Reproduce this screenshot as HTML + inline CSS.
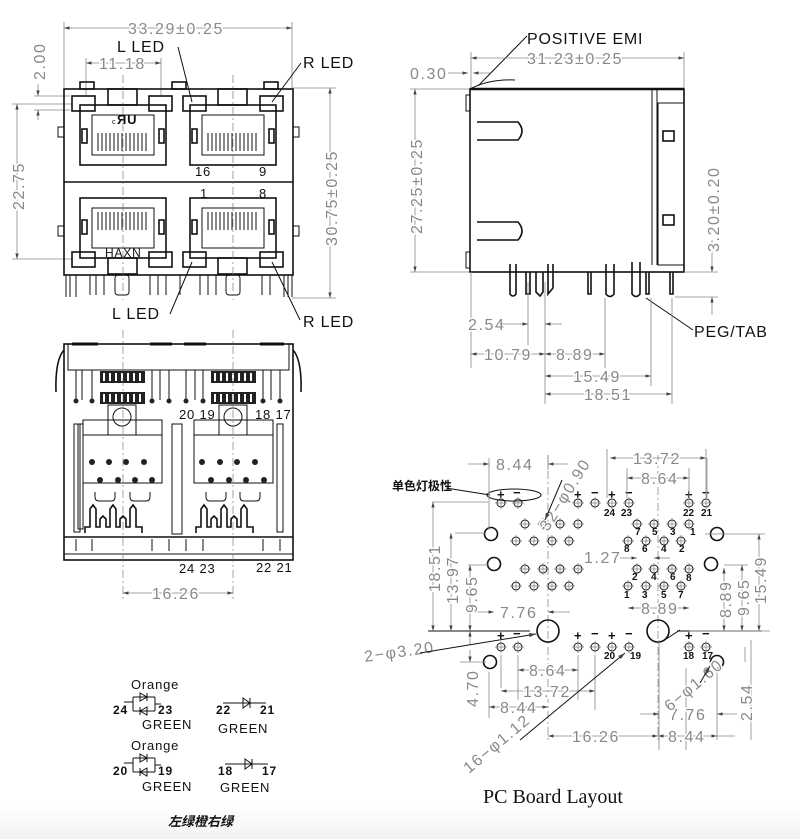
<!DOCTYPE html>
<html><head><meta charset="utf-8"><style>
html,body{margin:0;padding:0;background:#fff}
svg{display:block;font-size:16px}
.d{fill:#888;font-family:"Liberation Sans",sans-serif;font-size:16px;letter-spacing:1.6px;paint-order:stroke;stroke:#fff;stroke-width:3px}
.l{fill:#111;font-family:"Liberation Sans",sans-serif;letter-spacing:0.8px}
.s{fill:#111;font-family:"Liberation Sans",sans-serif;font-size:10px;font-weight:bold}
.k{stroke:#111;fill:none;stroke-width:1.6}
.t{stroke:#111;fill:none;stroke-width:1}
.g{stroke:#888;fill:none;stroke-width:0.8}
.c{stroke:#666;fill:none;stroke-width:0.6;stroke-dasharray:8 3 2 3}
</style></head><body>
<svg width="800" height="839" viewBox="0 0 800 839" xmlns="http://www.w3.org/2000/svg">
<defs>
<linearGradient id="bg" x1="0" y1="0" x2="0" y2="1"><stop offset="0" stop-color="#fff"/><stop offset="1" stop-color="#f2f2f2"/></linearGradient>
<marker id="a" viewBox="0 0 10 10" refX="10" refY="5" markerWidth="7" markerHeight="7" orient="auto-start-reverse"><path d="M0,2 L10,5 L0,8z" fill="#444"/></marker>
<g id="hole"><circle r="4" class="t"/><line x1="-6" y1="0" x2="6" y2="0" class="g"/><line x1="0" y1="-6" x2="0" y2="6" class="g"/></g>
<g id="port">
<rect x="0" y="0" width="86" height="60" class="k" stroke-width="3"/>
<rect x="12" y="10" width="62" height="40" class="t"/>
<g class="t" stroke-width="1.4"><path d="M18,28v18M22,28v18M26,28v18M30,28v18M34,28v18M38,28v18M42,28v18M46,28v18M50,28v18M54,28v18M58,28v18M62,28v18M66,28v18"/></g>
<rect x="2" y="24" width="5" height="14" class="k"/><rect x="79" y="24" width="5" height="14" class="k"/>
</g>
</defs>
<rect x="0" y="805" width="800" height="34" fill="url(#bg)"/>

<!-- ================= FRONT VIEW ================= -->
<g>
<line x1="64" y1="28" x2="292" y2="28" class="g" marker-start="url(#a)" marker-end="url(#a)"/>
<line x1="64" y1="22" x2="64" y2="88" class="g"/><line x1="292" y1="22" x2="292" y2="88" class="g"/>
<text x="128" y="34" class="d">33.29±0.25</text>
<line x1="86" y1="63" x2="161" y2="63" class="g" marker-start="url(#a)" marker-end="url(#a)"/>
<line x1="86" y1="58" x2="86" y2="95" class="g"/><line x1="161" y1="58" x2="161" y2="95" class="g"/>
<text x="99" y="69" class="d">11.18</text>
<text x="117" y="52" class="l">L  LED</text>
<line x1="178" y1="47" x2="192" y2="102" class="t"/>
<text x="303" y="68" class="l">R  LED</text>
<line x1="301" y1="63" x2="272" y2="102" class="t"/>
<text x="303" y="327" class="l">R  LED</text>
<line x1="300" y1="320" x2="272" y2="262" class="t"/>
<text x="112" y="319" class="l">L  LED</text>
<line x1="170" y1="314" x2="192" y2="262" class="t"/>
<text transform="translate(45,80) rotate(-90)" class="d">2.00</text>
<line x1="38" y1="84" x2="38" y2="96" class="g" marker-end="url(#a)"/>
<line x1="38" y1="120" x2="38" y2="110" class="g" marker-end="url(#a)"/>
<line x1="34" y1="96" x2="70" y2="96" class="g"/><line x1="34" y1="110" x2="70" y2="110" class="g"/>
<line x1="17" y1="104" x2="17" y2="259" class="g" marker-start="url(#a)" marker-end="url(#a)"/>
<line x1="12" y1="104" x2="72" y2="104" class="g"/><line x1="12" y1="259" x2="72" y2="259" class="g"/>
<text transform="translate(24,210) rotate(-90)" class="d">22.75</text>
<line x1="330" y1="88" x2="330" y2="298" class="g" marker-start="url(#a)" marker-end="url(#a)"/>
<line x1="292" y1="88" x2="336" y2="88" class="g"/><line x1="292" y1="298" x2="336" y2="298" class="g"/>
<text transform="translate(337,246) rotate(-90)" class="d">30.75±0.25</text>
<rect x="64" y="89" width="229" height="186" class="k"/>
<line x1="64" y1="182" x2="293" y2="182" class="k"/>
<g class="k"><rect x="80" y="82" width="14" height="7"/><rect x="172" y="82" width="14" height="7"/><rect x="264" y="82" width="14" height="7"/></g>
<rect x="58" y="127" width="6" height="10" class="t"/><rect x="293" y="127" width="6" height="10" class="t"/>
<rect x="58" y="226" width="6" height="10" class="t"/><rect x="293" y="226" width="6" height="10" class="t"/>
<use href="#port" x="80" y="105"/><use href="#port" x="190" y="105"/>
<g transform="translate(80,258) scale(1,-1)"><use href="#port"/></g>
<g transform="translate(190,258) scale(1,-1)"><use href="#port"/></g>
<g class="k" stroke-width="2.6">
<rect x="72" y="96" width="23" height="15"/><rect x="149" y="96" width="23" height="15"/><rect x="183" y="96" width="23" height="15"/><rect x="260" y="96" width="23" height="15"/>
<rect x="72" y="252" width="23" height="15"/><rect x="149" y="252" width="23" height="15"/><rect x="183" y="252" width="23" height="15"/><rect x="260" y="252" width="23" height="15"/>
<rect x="108" y="89" width="29" height="16"/><rect x="218" y="89" width="29" height="16"/>
<rect x="108" y="258" width="29" height="16"/><rect x="218" y="258" width="29" height="16"/>
</g>
<text x="112" y="124" class="l" font-size="7">c</text><text x="117" y="124" class="l" font-size="13" font-weight="bold">ЯU</text>
<text x="105" y="257" class="l" font-size="12">HAXN</text>
<text x="195" y="176" class="l" font-size="13">16</text><text x="259" y="176" class="l" font-size="13">9</text>
<text x="200" y="198" class="l" font-size="13">1</text><text x="259" y="198" class="l" font-size="13">8</text>
<g class="t"><path d="M66,275v22M70,275v22M76,275v22M90,275v20M96,275v20M104,275v20M150,275v20M158,275v20M166,275v20M180,275v20M200,275v20M208,275v20M216,275v20M262,275v20M270,275v20M284,275v22M288,275v22M292,275v22"/>
<rect x="115" y="275" width="14" height="20" rx="3"/><rect x="226" y="275" width="14" height="20" rx="3"/></g>
<line x1="123" y1="75" x2="123" y2="300" class="c"/><line x1="233" y1="75" x2="233" y2="300" class="c"/>
</g>

<!-- ================= SIDE VIEW ================= -->
<g>
<text x="527" y="44" class="l">POSITIVE  EMI</text>
<line x1="527" y1="36" x2="478" y2="86" class="t"/>
<path d="M472,88 Q490,79 515,80" class="t"/>
<line x1="471" y1="58" x2="684" y2="58" class="g" marker-start="url(#a)" marker-end="url(#a)"/>
<line x1="471" y1="52" x2="471" y2="90" class="g"/><line x1="684" y1="52" x2="684" y2="90" class="g"/>
<text x="527" y="64" class="d">31.23±0.25</text>
<text x="410" y="79" class="d">0.30</text>
<line x1="448" y1="73" x2="468" y2="73" class="g" marker-end="url(#a)"/>
<line x1="490" y1="73" x2="473" y2="73" class="g" marker-end="url(#a)"/>
<line x1="415" y1="89" x2="415" y2="272" class="g" marker-start="url(#a)" marker-end="url(#a)"/>
<line x1="410" y1="89" x2="470" y2="89" class="g"/><line x1="410" y1="272" x2="470" y2="272" class="g"/>
<text transform="translate(422,234) rotate(-90)" class="d">27.25±0.25</text>
<rect x="470" y="89" width="214" height="183" class="k"/>
<line x1="470" y1="89" x2="684" y2="89" stroke="#111" stroke-width="2.5"/>
<line x1="652" y1="90" x2="652" y2="265" class="t"/><line x1="657" y1="90" x2="657" y2="265" class="t"/>
<rect x="658" y="103" width="26" height="162" class="t"/>
<rect x="663" y="131" width="11" height="10" class="k"/><rect x="663" y="215" width="11" height="10" class="k"/>
<path d="M477,122 H518 Q526,131 518,140 H477" class="k"/>
<path d="M477,222 H518 Q526,231 518,240 H477" class="k"/>
<rect x="466" y="95" width="4" height="16" class="t"/><rect x="466" y="252" width="4" height="16" class="t"/>
<g class="k">
<path d="M510,264 v30 q3,4 6,0 v-30"/>
<path d="M526,272 v22 h4 v-22"/><path d="M536,272 v20 l4,4 l3,-4 v-20"/>
<path d="M548,264 v30 l5,-6 v-24"/>
<path d="M588,272 v22 h3 v-22"/>
<path d="M606,264 v30 q4,5 8,0 v-30"/>
<path d="M632,262 v32 q4,5 8,0 v-32"/>
<path d="M646,272 v22 h3 v-22"/><path d="M670,272 v22 h3 v-22"/>
</g>
<line x1="712" y1="240" x2="712" y2="272" class="g" marker-end="url(#a)"/>
<line x1="712" y1="315" x2="712" y2="297" class="g" marker-end="url(#a)"/>
<line x1="684" y1="272" x2="718" y2="272" class="g"/><line x1="675" y1="297" x2="718" y2="297" class="g"/>
<text transform="translate(719,252) rotate(-90)" class="d">3.20±0.20</text>
<text x="694" y="337" class="l">PEG/TAB</text>
<line x1="693" y1="330" x2="646" y2="298" class="t"/>
<g class="g"><path d="M471,272V368M528,282V345M545,282V404M605,298V368M651,298V386M672,298V404"/></g>
<text x="468" y="330" class="d">2.54</text>
<line x1="500" y1="324" x2="528" y2="324" class="g" marker-end="url(#a)"/>
<line x1="562" y1="324" x2="545" y2="324" class="g" marker-end="url(#a)"/>
<line x1="471" y1="354" x2="545" y2="354" class="g" marker-start="url(#a)" marker-end="url(#a)"/>
<text x="484" y="360" class="d">10.79</text>
<line x1="545" y1="354" x2="605" y2="354" class="g" marker-start="url(#a)" marker-end="url(#a)"/>
<text x="556" y="360" class="d">8.89</text>
<line x1="545" y1="376" x2="651" y2="376" class="g" marker-start="url(#a)" marker-end="url(#a)"/>
<text x="573" y="382" class="d">15.49</text>
<line x1="545" y1="394" x2="672" y2="394" class="g" marker-start="url(#a)" marker-end="url(#a)"/>
<text x="584" y="400" class="d">18.51</text>
</g>

<!-- ================= BOTTOM VIEW ================= -->
<g>
<rect x="64" y="344" width="229" height="216" class="k"/>
<rect x="68" y="344" width="221" height="26" class="t"/>
<g class="k"><path d="M72,344h26M150,344h22M184,344h22M260,344h24" stroke-width="3"/></g>
<path d="M64,350 Q55,360 56,392" class="k"/><path d="M293,350 Q302,360 301,392" class="k"/>
<line x1="64" y1="537" x2="293" y2="537" class="k"/><line x1="64" y1="554" x2="293" y2="554" class="t"/>
<g class="t">
<rect x="74" y="424" width="6" height="108"/><rect x="277" y="424" width="6" height="108"/>
<rect x="78" y="424" width="5" height="105"/>
<rect x="172" y="424" width="10" height="110"/>
<rect x="83" y="435" width="79" height="48"/><rect x="194" y="435" width="79" height="48"/>
<rect x="83" y="420" width="79" height="15"/><rect x="194" y="420" width="79" height="15"/>
<rect x="108" y="405" width="28" height="30"/><rect x="219" y="405" width="28" height="30"/>
<circle cx="122" cy="417" r="9"/><circle cx="233" cy="417" r="9"/>
<path d="M76,370v30M82,370v30M92,370v30M152,370v30M160,370v30M169,370v30M186,370v30M195,370v30M203,370v30M263,370v30M271,370v30M280,370v30"/>
</g>
<g fill="#222"><rect x="100" y="371" width="45" height="12"/><rect x="100" y="392" width="45" height="12"/><rect x="211" y="371" width="45" height="12"/><rect x="211" y="392" width="45" height="12"/></g>
<g fill="#fff"><rect x="103" y="373" width="2" height="8"/><rect x="109" y="373" width="2" height="8"/><rect x="115" y="373" width="2" height="8"/><rect x="121" y="373" width="2" height="8"/><rect x="127" y="373" width="2" height="8"/><rect x="133" y="373" width="2" height="8"/><rect x="139" y="373" width="2" height="8"/>
<rect x="103" y="394" width="2" height="8"/><rect x="109" y="394" width="2" height="8"/><rect x="115" y="394" width="2" height="8"/><rect x="121" y="394" width="2" height="8"/><rect x="127" y="394" width="2" height="8"/><rect x="133" y="394" width="2" height="8"/><rect x="139" y="394" width="2" height="8"/>
<rect x="214" y="373" width="2" height="8"/><rect x="220" y="373" width="2" height="8"/><rect x="226" y="373" width="2" height="8"/><rect x="232" y="373" width="2" height="8"/><rect x="238" y="373" width="2" height="8"/><rect x="244" y="373" width="2" height="8"/><rect x="250" y="373" width="2" height="8"/>
<rect x="214" y="394" width="2" height="8"/><rect x="220" y="394" width="2" height="8"/><rect x="226" y="394" width="2" height="8"/><rect x="232" y="394" width="2" height="8"/><rect x="238" y="394" width="2" height="8"/><rect x="244" y="394" width="2" height="8"/><rect x="250" y="394" width="2" height="8"/></g>
<g fill="#222">
<circle cx="92" cy="462" r="3"/><circle cx="109" cy="462" r="3"/><circle cx="126" cy="462" r="3"/><circle cx="144" cy="462" r="3"/>
<circle cx="100" cy="480" r="3"/><circle cx="118" cy="480" r="3"/><circle cx="135" cy="480" r="3"/><circle cx="152" cy="480" r="3"/>
<circle cx="202" cy="462" r="3"/><circle cx="220" cy="462" r="3"/><circle cx="237" cy="462" r="3"/><circle cx="255" cy="462" r="3"/>
<circle cx="211" cy="480" r="3"/><circle cx="229" cy="480" r="3"/><circle cx="246" cy="480" r="3"/><circle cx="264" cy="480" r="3"/>
<circle cx="76" cy="401" r="2.5"/><circle cx="92" cy="401" r="2.5"/><circle cx="152" cy="401" r="2.5"/><circle cx="169" cy="401" r="2.5"/><circle cx="186" cy="401" r="2.5"/><circle cx="203" cy="401" r="2.5"/><circle cx="263" cy="401" r="2.5"/><circle cx="280" cy="401" r="2.5"/>
</g>
<g class="k"><path d="M85,533 v-6 h5 v-18 l3,-4 l3,4 v18 h4 v-8 l3,-3 l3,3 v8 h4 v-18 l3,-4 l3,4 v18 h4 v-8 l3,-3 l3,3 v8 h4 v-18 l3,-4 l3,4 v18 h6 v6"/>
<path d="M196,533 v-6 h5 v-18 l3,-4 l3,4 v18 h4 v-8 l3,-3 l3,3 v8 h4 v-18 l3,-4 l3,4 v18 h4 v-8 l3,-3 l3,3 v8 h4 v-18 l3,-4 l3,4 v18 h6 v6"/></g>
<path d="M95,492 v5 q0,4 4,4 h12 q4,0 4,-4 v-5 M130,492 v5 q0,4 4,4 h12 q4,0 4,-4 v-5 M206,492 v5 q0,4 4,4 h12 q4,0 4,-4 v-5 M240,492 v5 q0,4 4,4 h12 q4,0 4,-4 v-5" class="t"/>
<g class="t"><path d="M76,539v12M92,539v12M152,539v12M169,539v12M186,539v12M203,539v12M263,539v12M280,539v12"/></g>
<text x="179" y="419" class="l" font-size="13">20 19</text><text x="255" y="419" class="l" font-size="13">18 17</text>
<text x="179" y="573" class="l" font-size="13">24 23</text><text x="256" y="572" class="l" font-size="13">22 21</text>
<line x1="123" y1="330" x2="123" y2="600" class="c"/><line x1="233" y1="330" x2="233" y2="600" class="c"/>
<line x1="123" y1="593" x2="233" y2="593" class="g" marker-start="url(#a)" marker-end="url(#a)"/>
<text x="152" y="599" class="d">16.26</text>
</g>

<!-- ================= LEGEND ================= -->
<g>
<text x="131" y="689" class="l" font-size="13">Orange</text>
<text x="113" y="714" class="l" font-size="12" font-weight="bold">24</text><text x="158" y="714" class="l" font-size="12" font-weight="bold">23</text>
<text x="142" y="729" class="l" font-size="13">GREEN</text>
<path d="M124,702 h9 M133,697 v14 M133,697 h22 M133,711 h22 M155,697 v14 M155,704 h6" class="t"/>
<path d="M140,693 l7,4 l-7,4z M147,693 v8 M147,707 l-7,4 l7,4z M140,707 v8" class="t"/>
<text x="131" y="750" class="l" font-size="13">Orange</text>
<text x="113" y="775" class="l" font-size="12" font-weight="bold">20</text><text x="158" y="775" class="l" font-size="12" font-weight="bold">19</text>
<text x="142" y="791" class="l" font-size="13">GREEN</text>
<path d="M124,763 h9 M133,758 v14 M133,758 h22 M133,772 h22 M155,758 v14 M155,765 h6" class="t"/>
<path d="M140,754 l7,4 l-7,4z M147,754 v8 M147,768 l-7,4 l7,4z M140,768 v8" class="t"/>
<text x="216" y="714" class="l" font-size="12" font-weight="bold">22</text><text x="260" y="714" class="l" font-size="12" font-weight="bold">21</text>
<text x="218" y="733" class="l" font-size="13">GREEN</text>
<path d="M223,703 h43 M243,698 l7,5 l-7,5z M250,698 v10" class="t"/>
<text x="218" y="775" class="l" font-size="12" font-weight="bold">18</text><text x="262" y="775" class="l" font-size="12" font-weight="bold">17</text>
<text x="220" y="792" class="l" font-size="13">GREEN</text>
<path d="M225,764 h43 M245,759 l7,5 l-7,5z M252,759 v10" class="t"/>
<text x="168" y="826" fill="#111" font-family="'Liberation Sans','Noto Sans CJK SC',sans-serif" font-size="13" font-weight="bold" font-style="italic">左绿橙右绿</text>
</g>

<!-- ================= PCB LAYOUT ================= -->
<g>
<text x="483" y="803" fill="#111" font-family="'Liberation Serif',serif" font-size="20">PC Board Layout</text>
<text x="392" y="490" fill="#111" font-family="'Liberation Sans','Noto Sans CJK SC',sans-serif" font-size="12" font-weight="bold">单色灯极性</text>
<path d="M446,488 L490,495" class="t"/>
<ellipse cx="514" cy="495" rx="27" ry="6" class="t"/>
<line x1="548" y1="455" x2="548" y2="740" class="c"/><line x1="658" y1="455" x2="658" y2="740" class="c"/>
<line x1="428" y1="631" x2="530" y2="631" class="t"/><line x1="677" y1="631" x2="762" y2="631" class="t"/>
<g class="l" font-size="13" font-weight="bold">
<text x="497" y="499">+</text><text x="513" y="497">−</text><text x="574" y="499">+</text><text x="591" y="497">−</text><text x="608" y="499">+</text><text x="625" y="497">−</text><text x="685" y="499">+</text><text x="702" y="497">−</text>
<text x="497" y="640">+</text><text x="513" y="638">−</text><text x="574" y="640">+</text><text x="591" y="638">−</text><text x="608" y="640">+</text><text x="625" y="638">−</text><text x="685" y="640">+</text><text x="702" y="638">−</text>
</g>
<g>
<use href="#hole" x="501" y="503"/><use href="#hole" x="518" y="503"/><use href="#hole" x="578" y="503"/><use href="#hole" x="595" y="503"/><use href="#hole" x="612" y="503"/><use href="#hole" x="629" y="503"/><use href="#hole" x="689" y="503"/><use href="#hole" x="706" y="503"/>
<use href="#hole" x="501" y="647"/><use href="#hole" x="518" y="647"/><use href="#hole" x="578" y="647"/><use href="#hole" x="595" y="647"/><use href="#hole" x="612" y="647"/><use href="#hole" x="629" y="647"/><use href="#hole" x="689" y="647"/><use href="#hole" x="706" y="647"/>
<use href="#hole" x="525" y="524"/><use href="#hole" x="543" y="524"/><use href="#hole" x="560" y="524"/><use href="#hole" x="578" y="524"/>
<use href="#hole" x="516" y="541"/><use href="#hole" x="534" y="541"/><use href="#hole" x="552" y="541"/><use href="#hole" x="569" y="541"/>
<use href="#hole" x="525" y="569"/><use href="#hole" x="543" y="569"/><use href="#hole" x="560" y="569"/><use href="#hole" x="578" y="569"/>
<use href="#hole" x="516" y="586"/><use href="#hole" x="534" y="586"/><use href="#hole" x="552" y="586"/><use href="#hole" x="569" y="586"/>
<use href="#hole" x="637" y="524"/><use href="#hole" x="654" y="524"/><use href="#hole" x="672" y="524"/><use href="#hole" x="689" y="524"/>
<use href="#hole" x="628" y="541"/><use href="#hole" x="646" y="541"/><use href="#hole" x="664" y="541"/><use href="#hole" x="681" y="541"/>
<use href="#hole" x="637" y="569"/><use href="#hole" x="654" y="569"/><use href="#hole" x="672" y="569"/><use href="#hole" x="689" y="569"/>
<use href="#hole" x="628" y="586"/><use href="#hole" x="646" y="586"/><use href="#hole" x="664" y="586"/><use href="#hole" x="681" y="586"/>
</g>
<g class="k"><circle cx="491" cy="534" r="6.5"/><circle cx="494" cy="564" r="6.5"/><circle cx="717" cy="534" r="6.5"/><circle cx="711" cy="564" r="6.5"/><circle cx="490" cy="662" r="6.5"/><circle cx="717" cy="662" r="6.5"/>
<circle cx="548" cy="631" r="11"/><circle cx="658" cy="631" r="11"/></g>
<g class="s">
<text x="604" y="516">24</text><text x="621" y="516">23</text><text x="683" y="516">22</text><text x="701" y="516">21</text>
<text x="604" y="659">20</text><text x="630" y="659">19</text><text x="683" y="659">18</text><text x="702" y="659">17</text>
<text x="635" y="535">7</text><text x="652" y="535">5</text><text x="670" y="535">3</text><text x="690" y="535">1</text>
<text x="624" y="552">8</text><text x="642" y="552">6</text><text x="661" y="552">4</text><text x="679" y="552">2</text>
<text x="632" y="580">2</text><text x="651" y="580">4</text><text x="670" y="580">6</text><text x="686" y="581">8</text>
<text x="624" y="598">1</text><text x="642" y="598">3</text><text x="661" y="598">5</text><text x="678" y="598">7</text>
</g>
<g class="g">
<path d="M489,458V530M548,455V470M607,449V498M706,449V500M627,468V498M689,468V498M707,458V500"/>
<path d="M488,502H432M455,533H486M468,565H489M724,565H748M705,534H765M690,631H770"/>
<path d="M489,672V718M501,655V688M518,655V700M578,655V700M595,655V710M659,640V750M717,668V740M686,668V750M751,640V740"/>
</g>
<line x1="468" y1="464" x2="489" y2="464" class="g" marker-end="url(#a)"/><line x1="568" y1="464" x2="548" y2="464" class="g" marker-end="url(#a)"/>
<text x="496" y="470" class="d">8.44</text>
<line x1="610" y1="458" x2="706" y2="458" class="g" marker-start="url(#a)" marker-end="url(#a)"/>
<text x="633" y="464" class="d">13.72</text>
<line x1="627" y1="478" x2="689" y2="478" class="g" marker-start="url(#a)" marker-end="url(#a)"/>
<text x="641" y="484" class="d">8.64</text>
<text transform="translate(548,532) rotate(-58)" class="d">32−φ0.90</text>
<line x1="562" y1="480" x2="545" y2="520" class="t" marker-end="url(#a)"/>
<text x="584" y="563" class="d">1.27</text>
<line x1="620" y1="558" x2="637" y2="558" class="g" marker-end="url(#a)"/><line x1="670" y1="558" x2="654" y2="558" class="g" marker-end="url(#a)"/>
<line x1="628" y1="608" x2="689" y2="608" class="g" marker-start="url(#a)" marker-end="url(#a)"/>
<text x="641" y="614" class="d">8.89</text>
<line x1="470" y1="612" x2="494" y2="612" class="g" marker-end="url(#a)"/><line x1="570" y1="612" x2="548" y2="612" class="g" marker-end="url(#a)"/>
<text x="500" y="618" class="d">7.76</text>
<line x1="433" y1="502" x2="433" y2="631" class="g" marker-start="url(#a)" marker-end="url(#a)"/>
<text transform="translate(440,592) rotate(-90)" class="d">18.51</text>
<line x1="451" y1="533" x2="451" y2="631" class="g" marker-start="url(#a)" marker-end="url(#a)"/>
<text transform="translate(458,604) rotate(-90)" class="d">13.97</text>
<line x1="470" y1="565" x2="470" y2="631" class="g" marker-start="url(#a)" marker-end="url(#a)"/>
<text transform="translate(477,613) rotate(-90)" class="d">9.65</text>
<line x1="470" y1="645" x2="470" y2="631" class="g" marker-end="url(#a)"/>
<line x1="470" y1="650" x2="470" y2="662" class="g" marker-end="url(#a)"/>
<line x1="460" y1="662" x2="486" y2="662" class="g"/>
<text transform="translate(478,707) rotate(-90)" class="d">4.70</text>
<line x1="724" y1="568" x2="724" y2="631" class="g" marker-start="url(#a)" marker-end="url(#a)"/>
<text transform="translate(731,618) rotate(-90)" class="d">8.89</text>
<line x1="742" y1="565" x2="742" y2="631" class="g" marker-start="url(#a)" marker-end="url(#a)"/>
<text transform="translate(749,616) rotate(-90)" class="d">9.65</text>
<line x1="759" y1="534" x2="759" y2="631" class="g" marker-start="url(#a)" marker-end="url(#a)"/>
<text transform="translate(766,604) rotate(-90)" class="d">15.49</text>
<line x1="745" y1="647" x2="745" y2="662" class="g"/>
<text transform="translate(752,721) rotate(-90)" class="d">2.54</text>
<line x1="518" y1="670" x2="578" y2="670" class="g" marker-start="url(#a)" marker-end="url(#a)"/>
<text x="529" y="676" class="d">8.64</text>
<line x1="501" y1="691" x2="595" y2="691" class="g" marker-start="url(#a)" marker-end="url(#a)"/>
<text x="523" y="697" class="d">13.72</text>
<line x1="489" y1="707" x2="548" y2="707" class="g" marker-start="url(#a)" marker-end="url(#a)"/>
<text x="500" y="713" class="d">8.44</text>
<line x1="548" y1="736" x2="658" y2="736" class="g" marker-start="url(#a)" marker-end="url(#a)"/>
<text x="572" y="742" class="d">16.26</text>
<line x1="658" y1="736" x2="717" y2="736" class="g" marker-start="url(#a)" marker-end="url(#a)"/>
<text x="668" y="742" class="d">8.44</text>
<line x1="715" y1="736" x2="735" y2="736" class="g"/>
<line x1="640" y1="714" x2="659" y2="714" class="g" marker-end="url(#a)"/><line x1="737" y1="714" x2="717" y2="714" class="g" marker-end="url(#a)"/>
<text x="669" y="720" class="d">7.76</text>
<text transform="translate(365,662) rotate(-8)" class="d">2−φ3.20</text>
<line x1="420" y1="653" x2="536" y2="634" class="t" marker-end="url(#a)"/>
<text transform="translate(670,712) rotate(-40)" class="d">6−φ1.60</text>
<line x1="700" y1="683" x2="710" y2="666" class="t" marker-end="url(#a)"/>
<text transform="translate(469,774) rotate(-40)" class="d">16−φ1.12</text>
<line x1="520" y1="740" x2="625" y2="653" class="t" marker-end="url(#a)"/>
<line x1="680" y1="630" x2="663" y2="641" class="t"/>
</g>
</svg>
</body></html>
